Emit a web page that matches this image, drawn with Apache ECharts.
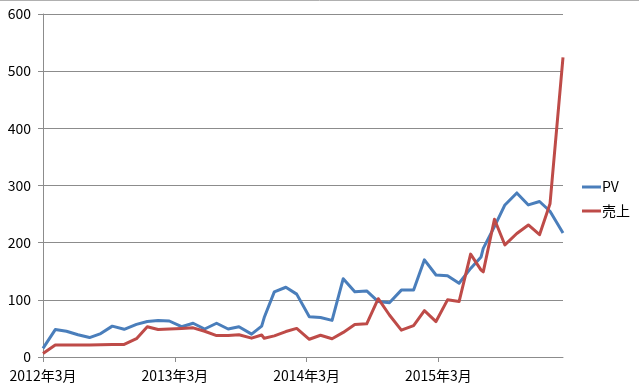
<!DOCTYPE html>
<html>
<head>
<meta charset="utf-8">
<script src="https://cdn.jsdelivr.net/npm/echarts@6/dist/echarts.min.js"></script>
<style>html,body{margin:0;padding:0;background:#fff;}#c{width:639px;height:391px;}</style>
</head>
<body>
<div id="c"></div>
<script>
var dates = ['2012-03-01','2012-04-04','2012-05-05','2012-06-06','2012-07-08','2012-08-08','2012-09-09','2012-10-12','2012-11-15','2012-12-15','2013-01-14','2013-02-14','2013-03-20','2013-04-21','2013-05-23','2013-06-25','2013-07-27','2013-08-26','2013-09-30','2013-10-28','2013-11-04','2013-12-02','2014-01-03','2014-02-02','2014-03-09','2014-04-09','2014-05-11','2014-06-11','2014-07-13','2014-08-15','2014-09-16','2014-10-17','2014-11-19','2014-12-23','2015-01-22','2015-02-23','2015-03-27','2015-04-28','2015-05-30','2015-06-28','2015-07-04','2015-08-04','2015-09-02','2015-10-05','2015-11-06','2015-12-07','2016-01-05','2016-02-10'];
var pv = [15,48,45,39,34,41,54,48.5,57,62,64,63,53,59,49,59,49,53,40,54,69,114,122,110,70.5,69,64,137,114,115.5,97,95,117,117,170,143.5,142,129,155,175,190,228,266,287,266,272,255,217];
var sales = [6,21,21,21,21,21.5,22,22,32,53,48,49,50,51,45,37.5,37.5,39,33,38.5,32.7,37,44.5,50,31,38,32,43,57,58,102,73.5,47,55,81,62,100,97,180,152,149,241,196,216,231,214,268,524];
var seriesNames = ['PV','売上'];
var yTicks = [0,100,200,300,400,500,600];
var xTickDates = ['2012-03-01','2013-03-01','2014-03-01','2015-03-01'];

var startT = Date.UTC(2012,2,1);
var MONTH = 365.25/12*86400000;
function toMonths(s){var p=s.split('-');return (Date.UTC(+p[0],+p[1]-1,+p[2])-startT)/MONTH;}
var xs = dates.map(toMonths);
var xTickVals = xTickDates.map(function(s){return Math.round(toMonths(s));});
function label(v){var m=Math.round(v);var y=2012+Math.floor((m+2)/12);var mo=((m+2)%12)+1;return y+'年'+mo+'月';}

var font = '"Noto Sans CJK JP", "Noto Sans", sans-serif';
var chart = echarts.init(document.getElementById('c'));
chart.setOption({
  backgroundColor:'#fff',
  animation:false,
  graphic:[{type:'line',shape:{x1:0,y1:0.5,x2:639,y2:0.5},style:{stroke:'#b0b0b0',lineWidth:1}}],
  grid:{left:43,right:76,top:14,bottom:34,containLabel:false},
  legend:{
    orient:'vertical',left:577,top:173,itemWidth:19,itemHeight:3,itemGap:6,icon:'rect',
    textStyle:{fontFamily:font,fontSize:14,lineHeight:18,color:'#000',padding:[0,0,0,-4]},
    data:seriesNames
  },
  xAxis:{
    type:'value',min:0,max:xs[xs.length-1],interval:12,
    axisLine:{show:true,lineStyle:{color:'#8c8c8c',width:1}},
    axisTick:{show:true,length:5,customValues:xTickVals,lineStyle:{color:'#8c8c8c'}},
    axisLabel:{customValues:xTickVals,formatter:label,margin:12,fontFamily:font,fontSize:14,color:'#000'},
    splitLine:{show:false}
  },
  yAxis:{
    type:'value',min:yTicks[0],max:yTicks[yTicks.length-1],interval:100,
    axisLine:{show:true,lineStyle:{color:'#8c8c8c',width:1}},
    axisTick:{show:true,length:5,lineStyle:{color:'#8c8c8c'}},
    axisLabel:{margin:12,fontFamily:font,fontSize:14,color:'#000'},
    splitLine:{show:true,lineStyle:{color:'#8c8c8c',width:1}}
  },
  series:[
    {name:seriesNames[0],type:'line',data:xs.map(function(x,i){return [x,pv[i]];}),showSymbol:false,symbol:'none',lineStyle:{width:3,color:'#4a7ebb',join:'round'},itemStyle:{color:'#4a7ebb'}},
    {name:seriesNames[1],type:'line',data:xs.map(function(x,i){return [x,sales[i]];}),showSymbol:false,symbol:'none',lineStyle:{width:3,color:'#be4b48',join:'round'},itemStyle:{color:'#be4b48'}}
  ]
});
</script>
</body>
</html>
